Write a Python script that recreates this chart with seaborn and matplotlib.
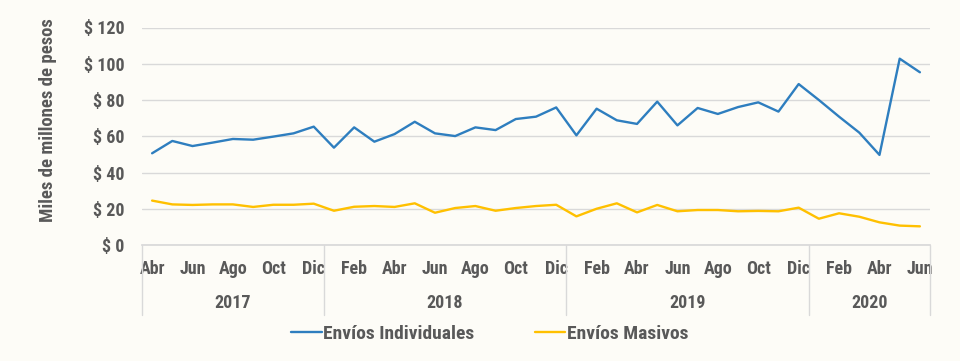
import matplotlib
matplotlib.use('Agg')
import matplotlib.pyplot as plt
import matplotlib.transforms as mtransforms
from matplotlib import font_manager
import pandas as pd
import seaborn as sns

# monthly data, Apr 2017 - Jun 2020 (miles de millones de pesos)
meses = ['Abr', 'May', 'Jun', 'Jul', 'Ago', 'Sep', 'Oct', 'Nov', 'Dic',
         'Ene', 'Feb', 'Mar', 'Abr', 'May', 'Jun', 'Jul', 'Ago', 'Sep', 'Oct', 'Nov', 'Dic',
         'Ene', 'Feb', 'Mar', 'Abr', 'May', 'Jun', 'Jul', 'Ago', 'Sep', 'Oct', 'Nov', 'Dic',
         'Ene', 'Feb', 'Mar', 'Abr', 'May', 'Jun']
anios = ['2017', '2018', '2019', '2020']
meses_por_anio = [9, 12, 12, 6]

individuales = [50.6, 57.4, 54.6, 56.5, 58.5, 58.1, 59.8, 61.6, 65.3,
                53.7, 64.9, 57.0, 61.2, 68.0, 61.6, 60.1, 64.9, 63.4, 69.5, 70.8, 75.9,
                60.5, 75.2, 68.8, 66.8, 79.1, 66.0, 75.6, 72.3, 76.1, 78.7, 73.6, 88.8,
                80.0, 70.8, 62.0, 49.7, 102.8, 95.3]
masivos = [24.5, 22.4, 22.1, 22.4, 22.4, 21.0, 22.2, 22.2, 22.8,
           18.9, 21.1, 21.5, 21.0, 23.0, 17.8, 20.4, 21.5, 18.9, 20.4, 21.5, 22.2,
           15.8, 20.0, 23.0, 18.0, 22.1, 18.6, 19.3, 19.3, 18.6, 18.8, 18.6, 20.6,
           14.5, 17.5, 15.6, 12.5, 10.7, 10.3]

series = ['Envíos Individuales', 'Envíos Masivos']
colores = ['#2E7EBF', '#FFC000']

n = len(meses)
df = pd.DataFrame({
    'idx': list(range(n)) * 2,
    'valor': individuales + masivos,
    'serie': [series[0]] * n + [series[1]] * n,
})

sns.set_theme(style='white')
names = {f.name for f in font_manager.fontManager.ttflist}
fam = next((f for f in ['Liberation Sans Narrow', 'Roboto Condensed', 'Asap Condensed',
                        'Barlow Condensed', 'Liberation Sans'] if f in names), 'DejaVu Sans')
plt.rcParams['font.family'] = [fam, 'DejaVu Sans']
fs = 13
txt = '#595959'
bg = '#fdfcf7'
grid = '#d9d9d9'

fig = plt.figure(figsize=(9.6, 3.61), dpi=100, facecolor=bg)
ax = fig.add_axes([142 / 960, 1 - 245 / 361, 788 / 960, 217.5 / 361])
ax.set_facecolor(bg)

sns.lineplot(data=df, x='idx', y='valor', hue='serie', palette=colores,
             linewidth=1.7, ax=ax, legend=True)

ax.set_xlim(-0.5, n - 0.5)
ax.set_ylim(0, 120)
ax.set_yticks(range(0, 121, 20))
ax.set_yticklabels([f'$ {v}' for v in range(0, 121, 20)])
ax.yaxis.grid(True, color=grid, linewidth=1)
ax.set_axisbelow(True)
for s in ['top', 'right', 'left']:
    ax.spines[s].set_visible(False)
ax.spines['bottom'].set_color(grid)

ax.set_xticks(range(0, n, 2))
ax.set_xticklabels(meses[0::2])
ax.set_xticks([i - 0.5 for i in range(n + 1)], minor=True)
ax.tick_params(axis='x', which='major', length=0, pad=11, labelsize=fs, labelcolor=txt)
ax.tick_params(axis='x', which='minor', length=24, color=grid, width=1, direction='out')
ax.tick_params(axis='y', length=0, pad=12.5, labelsize=fs, labelcolor=txt)
for lab in ax.get_xticklabels() + ax.get_yticklabels():
    lab.set_fontweight('bold')

ax.set_xlabel('')
ax.set_ylabel('')
fig.text(48 / 960, 1 - 120 / 361, 'Miles de millones de pesos', rotation=90,
         ha='center', va='center', fontsize=13.5, fontweight='bold', color=txt)

# year groups below the month labels
trans = mtransforms.blended_transform_factory(ax.transData, ax.transAxes)
bordes = [-0.5]
for m in meses_por_anio:
    bordes.append(bordes[-1] + m)
for b in bordes:
    ax.plot([b, b], [0, -70 / 217.5], transform=trans, color=grid, linewidth=1, clip_on=False)
for a, x0, x1 in zip(anios, bordes[:-1], bordes[1:]):
    ax.text((x0 + x1) / 2, -58 / 217.5, a, transform=trans, ha='center', va='center',
            fontsize=fs, fontweight='bold', color=txt)

leg = ax.legend(loc='center', bbox_to_anchor=(490 / 960, 1 - 334 / 361),
                bbox_transform=fig.transFigure, ncol=2, frameon=False,
                fontsize=14, handlelength=1.55, handletextpad=0.1, columnspacing=3.1)
for t in leg.get_texts():
    t.set_color(txt)
    t.set_fontweight('bold')

fig.savefig('out.png', dpi=100, facecolor=bg)
